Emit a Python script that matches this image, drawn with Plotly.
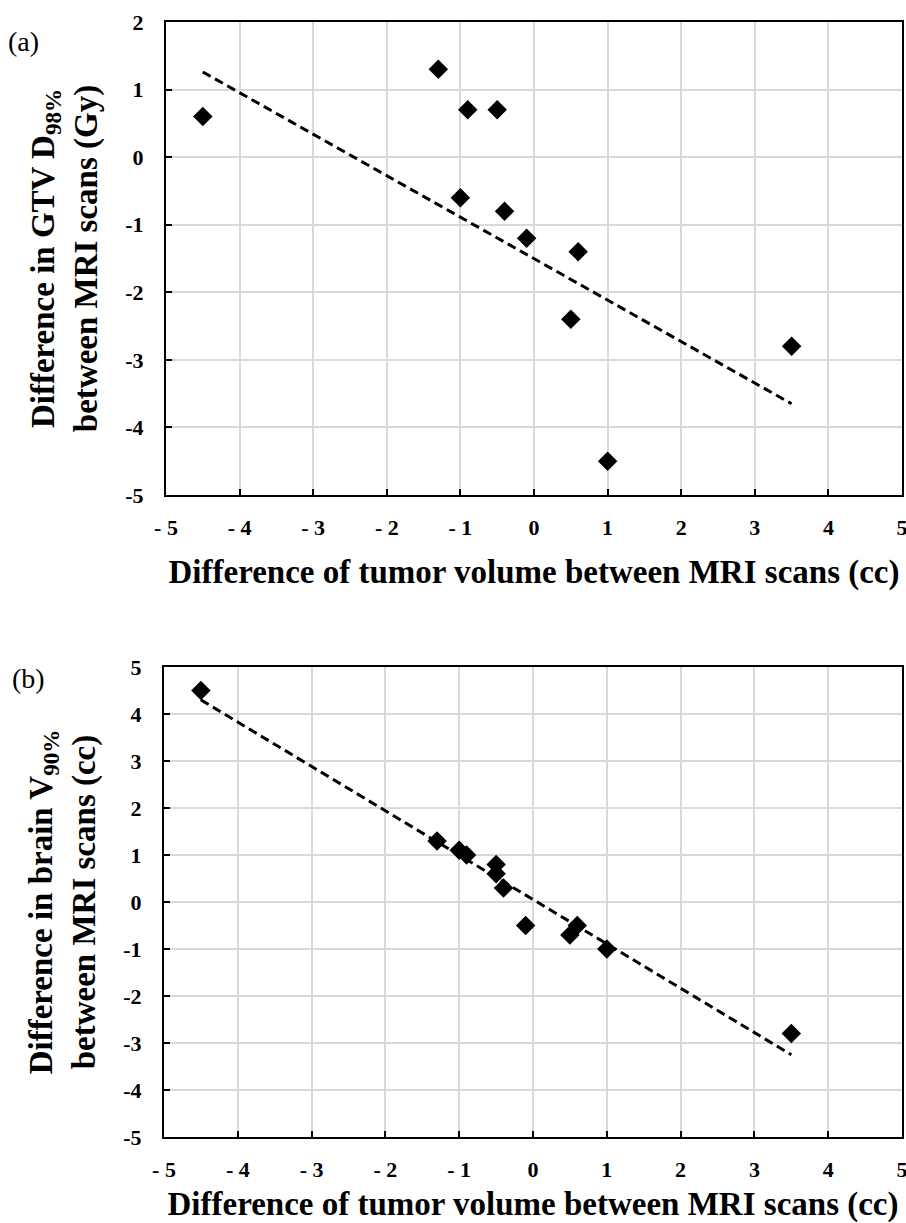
import plotly.graph_objects as go

# ---- data ----
vol_diff_a = [-4.5, -1.3, -0.9, -0.5, -1.0, -0.4, -0.1, 0.6, 0.5, 1.0, 3.5]
gtv_d98_diff = [0.6, 1.3, 0.7, 0.7, -0.6, -0.8, -1.2, -1.4, -2.4, -4.5, -2.8]
trend_a_x = [-4.5, 3.5]
trend_a_y = [1.26, -3.65]

vol_diff_b = [-4.5, -1.3, -1.0, -0.9, -0.5, -0.5, -0.4, -0.1, 0.6, 0.5, 1.0, 3.5]
brain_v90_diff = [4.5, 1.3, 1.1, 1.0, 0.8, 0.6, 0.3, -0.5, -0.5, -0.7, -1.0, -2.8]
trend_b_x = [-4.5, 3.5]
trend_b_y = [4.3, -3.25]

x_ticks = [-5, -4, -3, -2, -1, 0, 1, 2, 3, 4, 5]
x_ticktext = ["- 5", "- 4", "- 3", "- 2", "- 1", "0", "1", "2", "3", "4", "5"]
ya_ticks = [-5, -4, -3, -2, -1, 0, 1, 2]
ya_ticktext = ["-5", "-4", "-3", "-2", "-1", "0", "1", "2"]
yb_ticks = [-5, -4, -3, -2, -1, 0, 1, 2, 3, 4, 5]
yb_ticktext = ["-5", "-4", "-3", "-2", "-1", "0", "1", "2", "3", "4", "5"]

x_title = "Difference of tumor volume between MRI scans (cc)"
ya_title = "Difference in GTV D<sub>98%</sub><br>between MRI scans (Gy)"
yb_title = "Difference in brain V<sub>90%</sub><br>between MRI scans (cc)"

W, H = 906, 1223
SERIF = "Liberation Serif"

fig = go.Figure()
fig.add_trace(go.Scatter(x=vol_diff_a, y=gtv_d98_diff, mode="markers",
                         marker=dict(symbol="diamond", size=15, color="black"),
                         xaxis="x", yaxis="y", showlegend=False))
fig.add_trace(go.Scatter(x=trend_a_x, y=trend_a_y, mode="lines",
                         line=dict(color="black", width=3, dash="9px,5px"),
                         xaxis="x", yaxis="y", showlegend=False))
fig.add_trace(go.Scatter(x=vol_diff_b, y=brain_v90_diff, mode="markers",
                         marker=dict(symbol="diamond", size=15, color="black"),
                         xaxis="x2", yaxis="y2", showlegend=False))
fig.add_trace(go.Scatter(x=trend_b_x, y=trend_b_y, mode="lines",
                         line=dict(color="black", width=3, dash="9px,5px"),
                         xaxis="x2", yaxis="y2", showlegend=False))

tickfont = dict(family=SERIF, size=22, color="black", weight=700)
titlefont = dict(family=SERIF, size=33, color="black", weight=700)

common = dict(showgrid=True, gridcolor="#d9d9d9", gridwidth=1.5, zeroline=False,
              showline=True, linecolor="black", linewidth=2, mirror=True,
              ticks="inside", ticklen=6, tickwidth=2, tickcolor="black",
              tickfont=tickfont, automargin=False, ticklabeloverflow="allow")

def xax(domain_px, anchor):
    return dict(common, domain=[domain_px[0] / W, domain_px[1] / W], range=[-5, 5],
                tickvals=x_ticks, ticktext=x_ticktext, anchor=anchor,
                ticklabelstandoff=12,
                title=dict(text=x_title, font=titlefont, standoff=20))

def yax(top_px, bot_px, rng, ticks, ticktext, title, anchor):
    return dict(common, domain=[1 - bot_px / H, 1 - top_px / H], range=rng,
                tickvals=ticks, ticktext=ticktext, anchor=anchor,
                ticklabelstandoff=16,
                title=dict(text=title, font=titlefont, standoff=18))

fig.update_layout(
    template="none",
    width=W, height=H,
    margin=dict(l=0, r=0, t=0, b=0, pad=0),
    paper_bgcolor="white", plot_bgcolor="white",
    xaxis=xax((166, 902), "y"),
    yaxis=yax(22, 495, [-5, 2], ya_ticks, ya_ticktext, ya_title, "x"),
    xaxis2=xax((164, 902), "y2"),
    yaxis2=yax(667, 1137, [-5, 5], yb_ticks, yb_ticktext, yb_title, "x2"),
    annotations=[
        dict(text="(a)", x=6 / W, y=1 - 42 / H, xref="paper", yref="paper",
             xanchor="left", yanchor="middle", showarrow=False,
             font=dict(family=SERIF, size=28, color="black")),
        dict(text="(b)", x=10 / W, y=1 - 678 / H, xref="paper", yref="paper",
             xanchor="left", yanchor="middle", showarrow=False,
             font=dict(family=SERIF, size=28, color="black")),
    ],
)

fig.write_html("out.html",
               config={"displayModeBar": False},
               post_script="document.body.style.margin='0px';"
                           "document.body.style.overflow='hidden';")
